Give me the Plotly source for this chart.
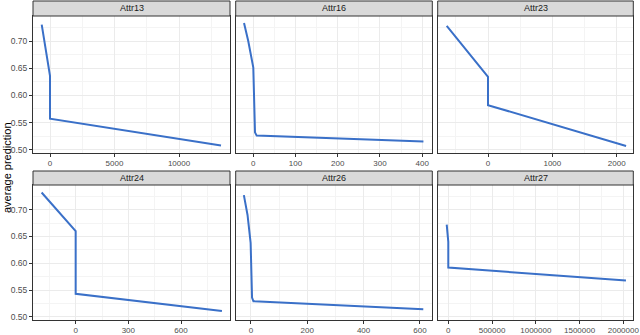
import plotly.graph_objects as go

# ---- data ----
panel_names = ["Attr13", "Attr16", "Attr23", "Attr24", "Attr26", "Attr27"]

attr13_x = [-643, 0, 0, 13256]
attr13_y = [0.730, 0.636, 0.557, 0.508]

attr16_x = [-22, -12, 0, 1.5, 2.5, 4, 8, 403]
attr16_y = [0.733, 0.700, 0.651, 0.590, 0.545, 0.532, 0.526, 0.515]

attr23_x = [-642, 0, 0, 2146]
attr23_y = [0.728, 0.634, 0.582, 0.507]

attr24_x = [-194, 0, 0, 833]
attr24_y = [0.732, 0.660, 0.543, 0.511]

attr26_x = [-25, -12, -1, 0, 2, 4, 9, 612]
attr26_y = [0.727, 0.690, 0.638, 0.600, 0.550, 0.536, 0.529, 0.514]

attr27_x = [-18000, -3000, 0, 0, 2030000]
attr27_y = [0.672, 0.645, 0.640, 0.592, 0.5675]

xs = [attr13_x, attr16_x, attr23_x, attr24_x, attr26_x, attr27_x]
ys = [attr13_y, attr16_y, attr23_y, attr24_y, attr26_y, attr27_y]

x_ranges = [[-1318, 13953], [-41.7, 424], [-782, 2258], [-243, 879], [-54, 644], [-121000, 2114000]]
x_dticks = [5000, 100, 1000, 300, 200, 500000]
y_range = [0.494, 0.746]

# ---- layout geometry (pixels) ----
W, H = 640, 335
cols_px = [(33, 230), (235.7, 432.3), (437.7, 633.3)]
rows_px = [(16, 153), (185, 320)]
strip_px = [(1, 16), (171, 185)]

def py(p):
    return 1 - p / H

fig = go.Figure()
line_color = "#3a70c8"
grid_major = "#ebebeb"
grid_minor = "#f4f4f4"
axis_line = "#333333"
tick_color = "#4d4d4d"
font_family = "Liberation Sans, Arial, sans-serif"

shapes = []
annotations = []
for i in range(6):
    r, c = divmod(i, 3)
    n = i + 1
    xa = "xaxis" if n == 1 else f"xaxis{n}"
    ya = "yaxis" if n == 1 else f"yaxis{n}"
    xref = "x" if n == 1 else f"x{n}"
    yref = "y" if n == 1 else f"y{n}"
    fig.add_trace(go.Scatter(x=xs[i], y=ys[i], mode="lines",
                             line=dict(color=line_color, width=2),
                             xaxis=xref, yaxis=yref, showlegend=False,
                             hoverinfo="skip"))
    x0, x1 = cols_px[c]
    y0, y1 = rows_px[r]
    fig.layout[xa] = dict(
        domain=[x0 / W, x1 / W], anchor=yref, range=x_ranges[i], automargin=False,
        dtick=x_dticks[i], tick0=0, showgrid=True, gridcolor=grid_major, gridwidth=1,
        minor=dict(dtick=x_dticks[i] / 2, tick0=0, showgrid=True, gridcolor=grid_minor, gridwidth=0.5, ticklen=0),
        showline=True, mirror=True, linecolor=axis_line, linewidth=1,
        ticks="outside", ticklen=2.5, tickcolor=axis_line, tickwidth=1,
        tickfont=dict(size=8, color=tick_color, family=font_family),
        ticklabeloverflow="allow",
        zeroline=False, fixedrange=True, tickformat="d",
    )
    fig.layout[ya] = dict(
        domain=[py(y1), py(y0)], anchor=xref, range=y_range, automargin=False,
        dtick=0.05, tick0=0.5, showgrid=True, gridcolor=grid_major, gridwidth=1,
        minor=dict(dtick=0.025, tick0=0.5, showgrid=True, gridcolor=grid_minor, gridwidth=0.5, ticklen=0),
        showline=True, mirror=True, linecolor=axis_line, linewidth=1,
        ticks="outside" if c == 0 else "", ticklen=3, tickcolor=axis_line, tickwidth=1,
        showticklabels=(c == 0), tickformat=".2f",
        tickfont=dict(size=8.5, color=tick_color, family=font_family),
        zeroline=False, fixedrange=True,
    )
    s0, s1 = strip_px[r]
    shapes.append(dict(type="rect", xref="paper", yref="paper",
                       x0=x0 / W, x1=x1 / W, y0=py(s1), y1=py(s0),
                       fillcolor="#d9d9d9", line=dict(color=axis_line, width=1), layer="above"))
    annotations.append(dict(text=panel_names[i], xref="paper", yref="paper",
                            x=(x0 + x1) / 2 / W, y=py((s0 + s1) / 2),
                            showarrow=False, xanchor="center", yanchor="middle",
                            font=dict(size=9, color="#1a1a1a", family=font_family)))

annotations.append(dict(text="average prediction", xref="paper", yref="paper",
                        x=7 / W, y=py(168), textangle=-90, showarrow=False,
                        xanchor="center", yanchor="middle",
                        font=dict(size=11, color="#000000", family=font_family)))

fig.update_layout(
    width=W, height=H, margin=dict(l=0, r=0, t=0, b=0, autoexpand=False),
    paper_bgcolor="white", plot_bgcolor="white",
    shapes=shapes, annotations=annotations, showlegend=False,
    font=dict(family=font_family),
)

post_js = (
    "document.documentElement.style.overflow='hidden';"
    "document.body.style.margin='0';document.body.style.overflow='hidden';"
)
fig.write_html("out.html", config={"displayModeBar": False}, post_script=post_js)
